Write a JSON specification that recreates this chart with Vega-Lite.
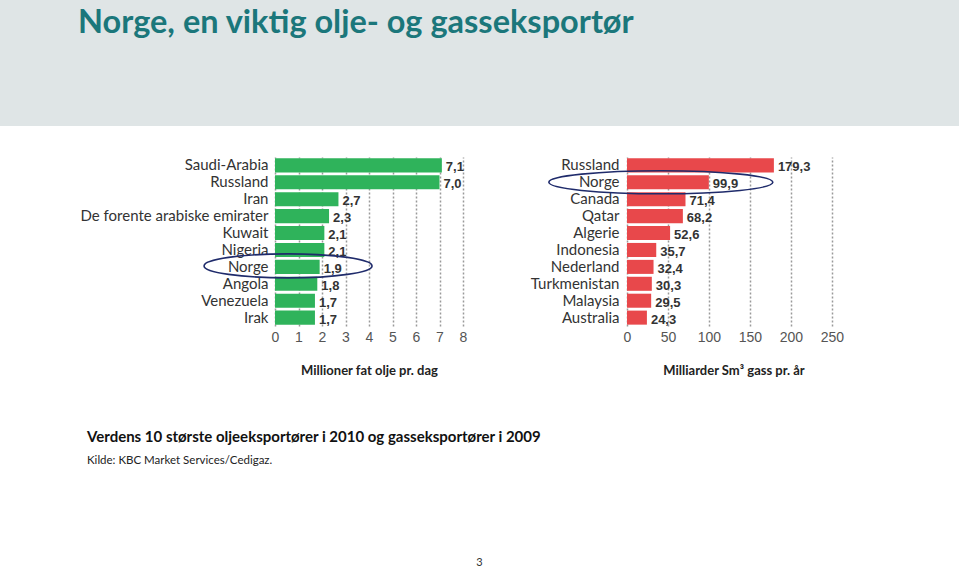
{
  "$schema": "https://vega.github.io/schema/vega-lite/v6.json",
  "padding": 0,
  "background": "white",
  "datasets": {
    "oil": [
      {"land": "Saudi-Arabia", "verdi": 7.1},
      {"land": "Russland", "verdi": 7.0},
      {"land": "Iran", "verdi": 2.7},
      {"land": "De forente arabiske emirater", "verdi": 2.3},
      {"land": "Kuwait", "verdi": 2.1},
      {"land": "Nigeria", "verdi": 2.1},
      {"land": "Norge", "verdi": 1.9},
      {"land": "Angola", "verdi": 1.8},
      {"land": "Venezuela", "verdi": 1.7},
      {"land": "Irak", "verdi": 1.7}
    ],
    "gas": [
      {"land": "Russland", "verdi": 179.3},
      {"land": "Norge", "verdi": 99.9},
      {"land": "Canada", "verdi": 71.4},
      {"land": "Qatar", "verdi": 68.2},
      {"land": "Algerie", "verdi": 52.6},
      {"land": "Indonesia", "verdi": 35.7},
      {"land": "Nederland", "verdi": 32.4},
      {"land": "Turkmenistan", "verdi": 30.3},
      {"land": "Malaysia", "verdi": 29.5},
      {"land": "Australia", "verdi": 24.3}
    ],
    "side": [
      {"side": "3"}
    ]
  },
  "config": {
    "view": {"stroke": null},
    "locale": {"number": {"decimal": ",", "thousands": " ", "grouping": [3], "currency": ["", " kr"]}},
    "axisX": {
      "grid": true, "gridDash": [2, 2], "gridColor": "#9a9a9a", "gridWidth": 1.5,
      "domain": false, "ticks": false, "zindex": 1, "labelOverlap": false, "labelFlush": false,
      "labelFont": "Liberation Sans", "labelFontSize": 14, "labelColor": "#555", "labelPadding": 4,
      "titleFont": "Lato", "titleFontSize": 13, "titleFontWeight": "bold", "titleColor": "#222", "titlePadding": 20
    },
    "axisY": {
      "domain": false, "ticks": false, "grid": false, "title": null,
      "labelFont": "Lato", "labelFontSize": 15, "labelColor": "#333", "labelLimit": 400
    }
  },
  "spacing": 31,
  "vconcat": [
    {
      "width": 959,
      "height": 126,
      "view": {"fill": "#dfe5e6", "stroke": null},
      "title": {
        "text": "Norge, en viktig olje- og gasseksportør",
        "anchor": "start", "frame": "group", "dx": 78, "offset": -65,
        "baseline": "alphabetic",
        "font": "Lato", "fontSize": 32.5, "fontWeight": "bold", "color": "#1b777b"
      },
      "data": {"values": []},
      "mark": "point"
    },
    {
      "spacing": 52,
      "vconcat": [
        {
          "spacing": 50,
          "hconcat": [
            {
              "width": 463,
              "height": 169,
              "data": {"name": "oil"},
              "encoding": {
                "y": {"field": "land", "type": "nominal", "sort": null,
                      "scale": {"paddingInner": 0.17, "paddingOuter": 0.08},
                      "axis": {"labelPadding": 7, "offset": -275, "minExtent": 0}}
              },
              "layer": [
                {
                  "mark": {"type": "bar", "color": "#2fb35b"},
                  "encoding": {
                    "x": {"field": "verdi", "type": "quantitative",
                          "scale": {"domain": [0, 8], "range": [275, 463]},
                          "axis": {"values": [0, 1, 2, 3, 4, 5, 6, 7, 8],
                                   "title": "Millioner fat olje pr. dag", "titleX": 369, "titleAlign": "center", "format": "d"}}
                  }
                },
                {
                  "mark": {"type": "text", "align": "left", "baseline": "middle", "dx": 4, "dy": 2,
                           "font": "Liberation Sans", "fontWeight": "bold", "fontSize": 13, "color": "#333"},
                  "encoding": {
                    "x": {"field": "verdi", "type": "quantitative"},
                    "text": {"field": "verdi", "type": "quantitative", "format": ".1f"}
                  }
                },
                {
                  "transform": [{"filter": "datum.land === 'Norge'"}],
                  "mark": {"type": "point", "filled": false, "stroke": "#1f2b6b", "strokeWidth": 1.6, "opacity": 1,
                           "size": 40000,
                           "shape": "M -1.156 -0.01 A 0.84 0.12 0 1 0 0.524 -0.01 A 0.84 0.12 0 1 0 -1.156 -0.01 Z"},
                  "encoding": {
                    "x": {"field": "verdi", "type": "quantitative"}
                  }
                }
              ]
            },
            {
              "width": 213,
              "height": 169,
              "data": {"name": "gas"},
              "encoding": {
                "y": {"field": "land", "type": "nominal", "sort": null,
                      "scale": {"paddingInner": 0.17, "paddingOuter": 0.08},
                      "axis": {"labelPadding": 8, "minExtent": 110}}
              },
              "layer": [
                {
                  "mark": {"type": "bar", "color": "#e8484b"},
                  "encoding": {
                    "x": {"field": "verdi", "type": "quantitative",
                          "scale": {"domain": [0, 250]},
                          "axis": {"values": [0, 50, 100, 150, 200, 250],
                                   "title": "Milliarder Sm³ gass pr. år", "format": "d"}}
                  }
                },
                {
                  "mark": {"type": "text", "align": "left", "baseline": "middle", "dx": 4, "dy": 2,
                           "font": "Liberation Sans", "fontWeight": "bold", "fontSize": 13, "color": "#333"},
                  "encoding": {
                    "x": {"field": "verdi", "type": "quantitative"},
                    "text": {"field": "verdi", "type": "quantitative", "format": ".1f"}
                  }
                },
                {
                  "transform": [{"filter": "datum.land === 'Norge'"}],
                  "mark": {"type": "point", "filled": false, "stroke": "#1f2b6b", "strokeWidth": 1.6, "opacity": 1,
                           "size": 40000,
                           "shape": "M -1.6 0 A 1.12 0.115 0 1 0 0.64 0 A 1.12 0.115 0 1 0 -1.6 0 Z"},
                  "encoding": {
                    "x": {"field": "verdi", "type": "quantitative"}
                  }
                }
              ]
            }
          ]
        },
        {
          "spacing": 82,
          "vconcat": [
            {
              "width": 959,
              "height": 1,
              "title": {
                "text": "Verdens 10 største oljeeksportører i 2010 og gasseksportører i 2009",
                "subtitle": "Kilde: KBC Market Services/Cedigaz.",
                "anchor": "start", "frame": "group", "dx": 87, "offset": 4,
                "font": "Lato", "fontSize": 15, "fontWeight": "bold", "color": "#111",
                "subtitleFont": "Lato", "subtitleFontSize": 11.5, "subtitleColor": "#222", "subtitlePadding": 10
              },
              "data": {"values": []},
              "mark": "point"
            },
            {
              "width": 959,
              "height": 20,
              "data": {"name": "side"},
              "mark": {"type": "text", "font": "Lato", "fontSize": 11, "color": "#333", "align": "center", "baseline": "middle"},
              "encoding": {"text": {"field": "side", "type": "nominal"}}
            }
          ]
        }
      ]
    }
  ]
}
